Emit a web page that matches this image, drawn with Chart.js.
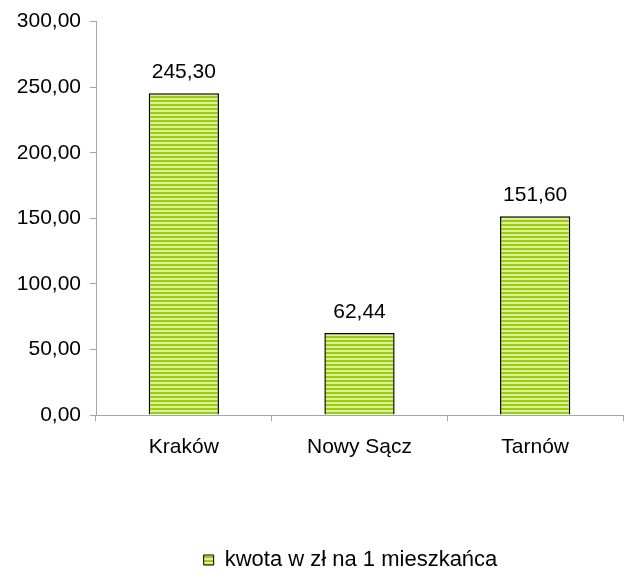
<!DOCTYPE html>
<html lang="pl">
<head>
  <meta charset="UTF-8" />
  <title>kwota w zł na 1 mieszkańca</title>
  <script src="https://cdn.jsdelivr.net/npm/chart.js"></script>
  <style>
    html, body { margin: 0; padding: 0; background: #fff; }
    #wrap { width: 629px; height: 579px; position: relative; }
  </style>
</head>
<body>
  <div id="wrap"><canvas id="chart"></canvas></div>
  <script>
    const categories = ["Kraków", "Nowy Sącz", "Tarnów"];
    const seriesName = "kwota w zł na 1 mieszkańca";
    const values = [245.30, 62.44, 151.60];
    const yMin = 0, yMax = 300, yStep = 50;

    const FONT = "'Liberation Sans', Arial, sans-serif";
    const fmt = v => v.toFixed(2).replace(".", ",");

    // striped fill like the original spreadsheet pattern
    function stripes() {
      const c = document.createElement("canvas");
      c.width = 4; c.height = 4;
      const g = c.getContext("2d");
      g.fillStyle = "#dcef9c";
      g.fillRect(0, 0, 4, 4);
      g.fillStyle = "#9acd0a";
      g.fillRect(0, 0, 4, 2);
      return g.createPattern(c, "repeat");
    }
    const pattern = stripes();

    const valueLabels = {
      id: "valueLabels",
      afterDatasetsDraw(chart) {
        const ctx = chart.ctx;
        const meta = chart.getDatasetMeta(0);
        ctx.save();
        ctx.font = "21px " + FONT;
        ctx.fillStyle = "#000";
        ctx.textAlign = "center";
        ctx.textBaseline = "middle";
        meta.data.forEach((bar, i) => {
          ctx.fillText(fmt(values[i]), bar.x, bar.y - 21);
        });
        ctx.restore();
      }
    };

    // the legend in the original sits a bit right of centre
    const legendShift = {
      id: "legendShift",
      afterLayout(chart) {
        const lg = chart.legend;
        lg.left += 39; lg.right += 39;
        lg.top += 2; lg.bottom += 2;
      }
    };

    new Chart(document.getElementById("chart"), {
      type: "bar",
      data: {
        labels: categories,
        datasets: [{
          label: seriesName,
          data: values,
          backgroundColor: pattern,
          borderColor: "#000",
          borderWidth: 1.5,
          borderSkipped: "bottom",
          categoryPercentage: 1,
          barPercentage: 0.4
        }]
      },
      options: {
        responsive: true,
        maintainAspectRatio: false,
        animation: false,
        layout: { padding: { top: 21, right: 6, left: 0, bottom: 0 } },
        scales: {
          x: {
            grid: { display: true, drawOnChartArea: false, drawTicks: true, tickLength: 6, color: "#a6a6a6", offset: true },
            border: { color: "#a6a6a6", width: 1 },
            ticks: { color: "#000", font: { family: FONT, size: 21 }, padding: 14, maxRotation: 0 },
            afterFit(scale) { scale.height = 130; }
          },
          y: {
            min: yMin, max: yMax,
            grid: { display: true, drawOnChartArea: false, drawTicks: true, tickLength: 6, color: "#a6a6a6" },
            border: { color: "#a6a6a6", width: 1 },
            ticks: { stepSize: yStep, color: "#000", font: { family: FONT, size: 21 }, padding: 9, callback: v => fmt(v) },
            afterFit(scale) { scale.width = 96; }
          }
        },
        plugins: {
          legend: {
            display: true,
            position: "bottom",
            labels: {
              color: "#000",
              font: { family: FONT, size: 22 },
              boxWidth: 10, boxHeight: 10,
              padding: 2,
              generateLabels() {
                return [{ text: seriesName, fillStyle: pattern, strokeStyle: "#000", lineWidth: 1, datasetIndex: 0 }];
              }
            }
          },
          tooltip: { enabled: false }
        }
      },
      plugins: [valueLabels, legendShift]
    });
  </script>
</body>
</html>
